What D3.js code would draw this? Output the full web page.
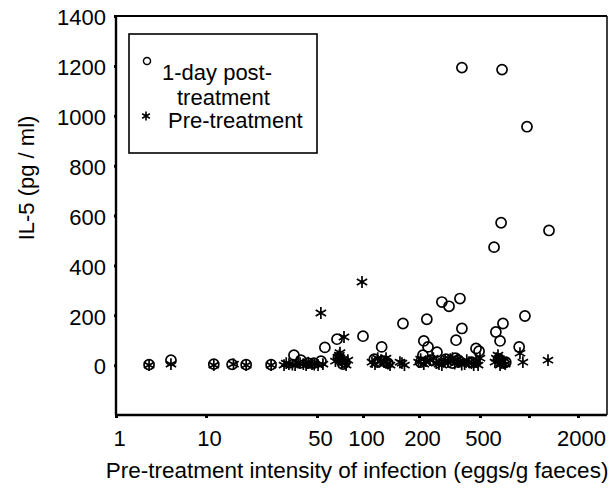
<!DOCTYPE html>
<html>
<head>
<meta charset="utf-8">
<script src="https://cdn.jsdelivr.net/npm/d3@7"></script>
<style>
  html, body { margin: 0; padding: 0; background: #fff; }
  svg text { font-family: "Liberation Sans", Arial, sans-serif; fill: #000; }
</style>
</head>
<body>
<svg id="chart" width="612" height="488"></svg>
<script>
// ---- data ----
const xTickValues = [1, 10, 50, 100, 200, 500, 1000, 2000];
const xTickLabels = ["1", "10", "50", "100", "200", "500", "", "2000"];
const yTickValues = [0, 200, 400, 600, 800, 1000, 1200, 1400];
const yTickLabels = ["0", "200", "400", "600", "800", "1000", "1200", "1400"];

const seriesNames = ["1-day post-treatment", "Pre-treatment"];

// 1-day post-treatment (circles)
const postX = [2.33, 4.08, 11.2, 14.6, 17.9, 25.7, 35.8, 39.6, 43.9, 47.8, 53.1, 56.3, 67.6, 71.7, 76.1,
  100, 126, 120, 136, 164, 225, 215, 229, 262, 212, 282, 314, 370, 381, 349, 381, 471, 493,
  683, 972, 674, 1327, 610, 944, 692, 626, 664, 870, 243, 346, 440, 720,
  69, 74, 115, 131, 205, 300, 330, 360, 650, 700];
const postY = [2, 20, 4, 3, 2, 2, 40, 20, 8, 8, 16, 71, 104, 20, 12,
  116, 73, 12, 8, 167, 184, 97, 73, 52, 40, 253, 236, 267, 147, 100, 1193, 67, 56,
  1185, 956, 571, 540, 473, 197, 167, 133, 97, 73, 20, 28, 12, 12,
  30, 4, 24, 16, 12, 24, 8, 20, 24, 8];

// Pre-treatment (asterisks)
const preX = [2.33, 4.08, 11.2, 14.9, 17.9, 25.7, 31, 33.3, 36.4, 39.1, 42.7, 46.5, 50.8, 54.7, 53,
  75.1, 68.5, 72.8, 77.5, 70.7, 79.6, 98.5, 111.8, 120, 129.7, 139.7, 133, 158, 167,
  199, 215, 236, 259, 282, 309, 331, 363, 397, 424, 455, 296, 471, 500, 486,
  618, 645, 683, 664, 714, 880, 917, 1308,
  32, 35, 38, 41, 44, 48, 66, 70, 74, 116, 125, 136, 162,
  205, 222, 248, 270, 290, 320, 342, 355, 380, 410, 440, 476, 630, 655, 672, 700];
const preY = [0, 4, 0, 4, 0, 0, 0, 4, 0, 8, 0, 4, 0, 4, 209,
  113, 32, 12, 0, 50, 20, 333, 12, 28, 12, 0, 28, 12, 0,
  12, 4, 20, 8, 0, 12, 28, 12, 4, 12, 0, 20, 12, 28, 0,
  12, 40, 20, 0, 4, 48, 12, 20,
  8, 2, 10, 4, 10, 2, 16, 40, 24, 4, 20, 6, 8,
  24, 16, 28, 4, 14, 24, 6, 24, 2, 20, 8, 20, 28, 24, 8, 16];

// ---- layout ----
const svg = d3.select("#chart");
const pLeft = 116, pRight = 607, pTop = 16, pBottom = 415;

// The printed x axis is log-like but unevenly spaced; use a piecewise log scale
const x = d3.scaleLog()
  .domain([1, 10, 50, 100, 200, 500, 1000, 2000, 3000])
  .range([116, 206, 317, 363, 419, 480, 529, 578, 607]);
const y = d3.scaleLinear().domain([-200, 1400]).range([pBottom, pTop]);

// frame (right thinner)
svg.append("line").attr("x1", pLeft).attr("x2", pRight).attr("y1", pTop).attr("y2", pTop)
  .attr("stroke", "#000").attr("stroke-width", 2);
svg.append("line").attr("x1", pRight).attr("x2", pRight).attr("y1", pTop).attr("y2", pBottom)
  .attr("stroke", "#000").attr("stroke-width", 1.5);

// axes
const xAxis = d3.axisBottom(x).tickValues(xTickValues)
  .tickFormat((d, i) => xTickLabels[i]).tickSize(3).tickPadding(12);
const gx = svg.append("g").attr("transform", `translate(0,${pBottom})`).call(xAxis);
gx.select(".domain").attr("stroke-width", 2.4).attr("d", `M${pLeft},0H${pRight}`);
gx.selectAll(".tick line").attr("stroke-width", 3);
gx.selectAll(".tick text").attr("dx", 3).style("font-size", "22px").style("font-family", "'Liberation Sans', Arial, sans-serif");

const yAxis = d3.axisLeft(y).tickValues(yTickValues)
  .tickFormat((d, i) => yTickLabels[i]).tickSize(2).tickPadding(8);
const gy = svg.append("g").attr("transform", `translate(${pLeft},0)`).call(yAxis);
gy.select(".domain").attr("stroke-width", 2.4).attr("d", `M0,${pTop}V${pBottom}`);
gy.selectAll(".tick line").attr("stroke-width", 3);
gy.selectAll(".tick text").attr("dy", "0.4em").style("font-size", "22px").style("font-family", "'Liberation Sans', Arial, sans-serif");

// axis titles
svg.append("text")
  .attr("transform", "translate(34,178) rotate(-90)")
  .attr("text-anchor", "middle")
  .style("font-size", "22px")
  .text("IL-5 (pg / ml)");
svg.append("text")
  .attr("x", 357).attr("y", 478)
  .attr("text-anchor", "middle")
  .style("font-size", "22.5px")
  .text("Pre-treatment intensity of infection (eggs/g faeces)");

// markers
const asterisk = d3.symbolAsterisk || {
  draw(ctx, size) {
    const r = Math.sqrt(size) * 0.59436, t = r / 2, u = t * Math.sqrt(3);
    ctx.moveTo(0, r); ctx.lineTo(0, -r);
    ctx.moveTo(-u, -t); ctx.lineTo(u, t);
    ctx.moveTo(-u, t); ctx.lineTo(u, -t);
  }
};
const starPath = d3.symbol().type(asterisk).size(100)();
const circlePath = d3.symbol().type(d3.symbolCircle).size(80)();

const pre = preX.map((v, i) => ({x: v, y: preY[i]}));
const post = postX.map((v, i) => ({x: v, y: postY[i]}));

svg.append("g").selectAll("path").data(pre).join("path")
  .attr("d", starPath)
  .attr("transform", d => `translate(${x(d.x)},${y(d.y)})`)
  .attr("fill", "none").attr("stroke", "#000").attr("stroke-width", 1.7);

svg.append("g").selectAll("path").data(post).join("path")
  .attr("d", circlePath)
  .attr("transform", d => `translate(${x(d.x)},${y(d.y)})`)
  .attr("fill", "none").attr("stroke", "#000").attr("stroke-width", 1.7);

// legend
const lg = svg.append("g");
lg.append("rect").attr("x", 129).attr("y", 34).attr("width", 188).attr("height", 119)
  .attr("fill", "#fff").attr("stroke", "#000").attr("stroke-width", 1.6);
lg.append("path").attr("d", d3.symbol().type(d3.symbolCircle).size(40)())
  .attr("transform", "translate(147,61)")
  .attr("fill", "none").attr("stroke", "#000").attr("stroke-width", 1.4);
lg.append("path").attr("d", d3.symbol().type(asterisk).size(55)())
  .attr("transform", "translate(146,116)")
  .attr("fill", "none").attr("stroke", "#000").attr("stroke-width", 1.6);
lg.append("text").attr("x", 162).attr("y", 80).style("font-size", "22px").text("1-day post-");
lg.append("text").attr("x", 177).attr("y", 105).style("font-size", "22px").text("treatment");
lg.append("text").attr("x", 168).attr("y", 128).style("font-size", "22px").text(seriesNames[1]);
</script>
</body>
</html>
